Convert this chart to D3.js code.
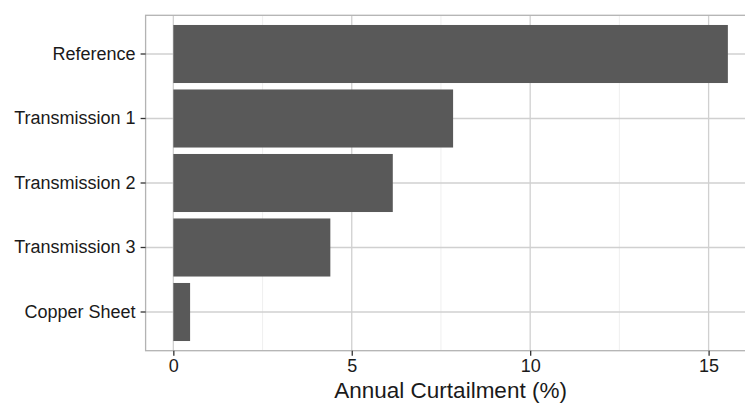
<!DOCTYPE html>
<html><head><meta charset="utf-8">
<script src="https://cdn.jsdelivr.net/npm/d3@7"></script>
<style>body{margin:0;background:#fff;} svg{display:block;font-family:"Liberation Sans",Arial,sans-serif;}</style>
</head><body>
<svg id="c" width="745" height="405"></svg>
<script>
const categories = ["Reference","Transmission 1","Transmission 2","Transmission 3","Copper Sheet"];
const values = [15.54, 7.84, 6.15, 4.40, 0.47];
const xTicks = [0, 5, 10, 15];
const xMinor = [2.5, 7.5, 12.5];
const xTitle = "Annual Curtailment (%)";

const svg = d3.select("#c");
const L = 145.6, T = 15.3, B = 350.7;
const maxV = d3.max(values), ex = 0.05 * maxV;
const x = d3.scaleLinear().domain([-ex, maxV + ex]).range([L, L + 610]);
const y = d3.scaleBand().domain(categories).range([T, B]).paddingInner(0.1).paddingOuter(0.15);
const R = x.range()[1];

const g = svg.append("g");
g.selectAll(".mnx").data(xMinor).join("line").attr("x1", d => x(d)).attr("x2", d => x(d))
  .attr("y1", T).attr("y2", B).attr("stroke", "#ebebeb").attr("stroke-width", 0.8);
g.selectAll(".mjx").data(xTicks).join("line").attr("x1", d => x(d)).attr("x2", d => x(d))
  .attr("y1", T).attr("y2", B).attr("stroke", "#d0d0d0").attr("stroke-width", 1.3);
g.selectAll(".mjy").data(categories).join("line").attr("y1", d => y(d) + y.bandwidth()/2).attr("y2", d => y(d) + y.bandwidth()/2)
  .attr("x1", L).attr("x2", R).attr("stroke", "#d0d0d0").attr("stroke-width", 1.3);
g.selectAll("rect.bar").data(categories).join("rect").attr("class","bar")
  .attr("x", x(0)).attr("y", d => y(d)).attr("height", y.bandwidth())
  .attr("width", (d,i) => x(values[i]) - x(0)).attr("fill", "#595959");
svg.append("rect").attr("x", L).attr("y", T).attr("width", R - L).attr("height", B - T)
  .attr("fill", "none").attr("stroke", "#b3b3b3").attr("stroke-width", 1.3);

const xa = svg.append("g").attr("transform", `translate(0,${B})`)
  .call(d3.axisBottom(x).tickValues(xTicks).tickFormat(d3.format("d")).tickSize(5).tickPadding(4));
xa.select(".domain").remove();
xa.selectAll("line").attr("stroke", "#333").attr("stroke-width", 1.3);
xa.selectAll("text").attr("font-size", 18).attr("fill", "#1a1a1a").attr("font-family", "Liberation Sans, Arial, sans-serif");

const ya = svg.append("g").attr("transform", `translate(${L},0)`)
  .call(d3.axisLeft(y).tickSize(5).tickPadding(5));
ya.select(".domain").remove();
ya.selectAll("line").attr("stroke", "#333").attr("stroke-width", 1.3);
ya.selectAll("text").attr("font-size", 18).attr("fill", "#1a1a1a").attr("font-family", "Liberation Sans, Arial, sans-serif");

svg.append("text").attr("x", (L + R)/2).attr("y", 398).attr("text-anchor", "middle")
  .attr("font-size", 22.5).attr("fill", "#1a1a1a").text(xTitle);
</script>
</body></html>
